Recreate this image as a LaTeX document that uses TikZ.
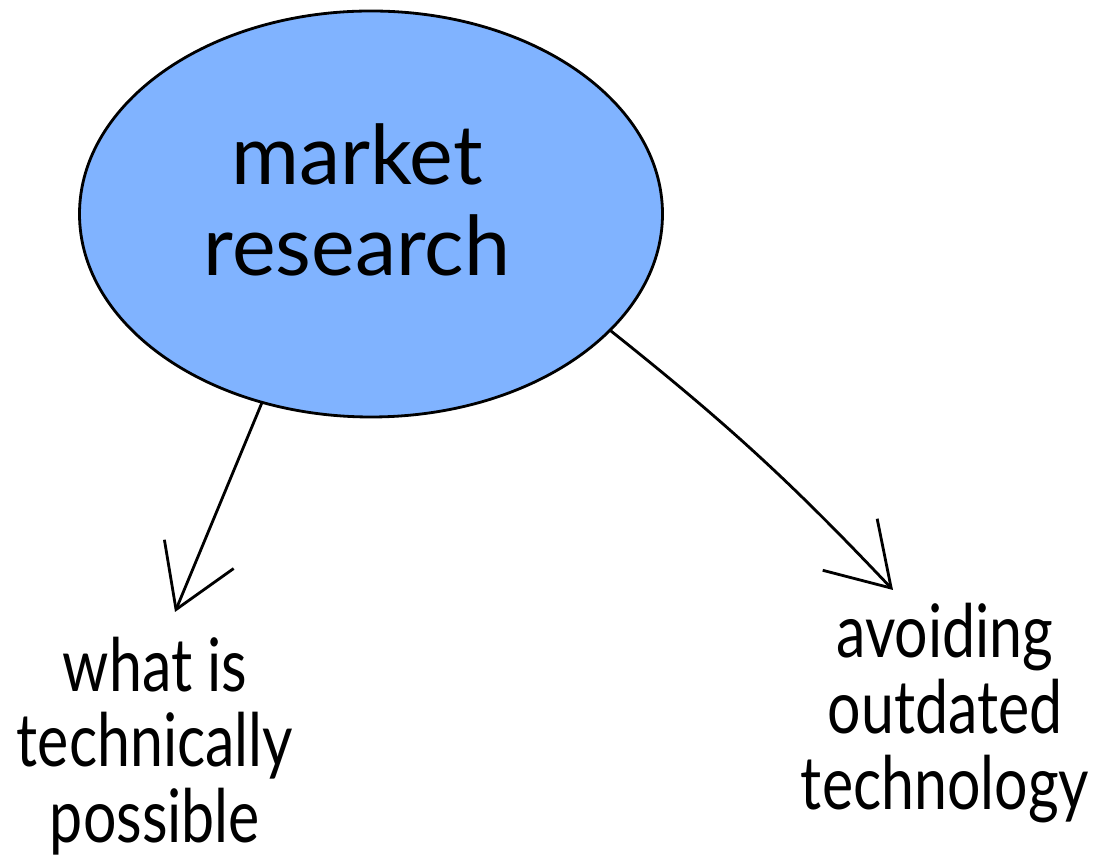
\documentclass[tikz,border=0pt]{standalone}
\usepackage{fontspec}
\setmainfont{Lato}[FakeStretch=0.8]
\newfontfamily\cimbetu{Lato}
\usetikzlibrary{arrows.meta,positioning,shapes.geometric}
\definecolor{kek}{HTML}{80B3FF}
\tikzset{
  buborek/.style={ellipse,draw,line width=0.8pt,fill=kek,
                  minimum width=5.83cm,minimum height=4.06cm,inner sep=0pt},
  felirat/.style={align=center,font=\cimbetu\fontsize{23.5}{26}\selectfont},
  ag/.style={align=center,font=\fontsize{21}{21.5}\selectfont},
  nyil/.style={-{Straight Barb[length=6mm,width=7.5mm,line width=0.8pt]},line width=0.8pt,line cap=round},
}
\begin{document}
\begin{tikzpicture}
  \useasboundingbox (0,0) rectangle (11.05,8.63);
  % kozepso buborek
  \node[buborek] (kutatas) at (3.71,6.49) {};
  \node[felirat] (kutcim) at (3.57,6.63) {market\\research};
  % agak
  \node[ag] (lehetseges) at (1.55,1.17) {what is\\technically\\possible};
  \node[ag] (elavult) at (9.45,1.50) {avoiding\\outdated\\technology};
  \coordinate (hegyA) at (1.75,2.51);
  \coordinate (hegyB) at (8.93,2.73);
  \draw[nyil] (kutatas.240) -- (hegyA);
  \draw[nyil] (kutatas.334) to[bend left=4] (hegyB);
\end{tikzpicture}
\end{document}
